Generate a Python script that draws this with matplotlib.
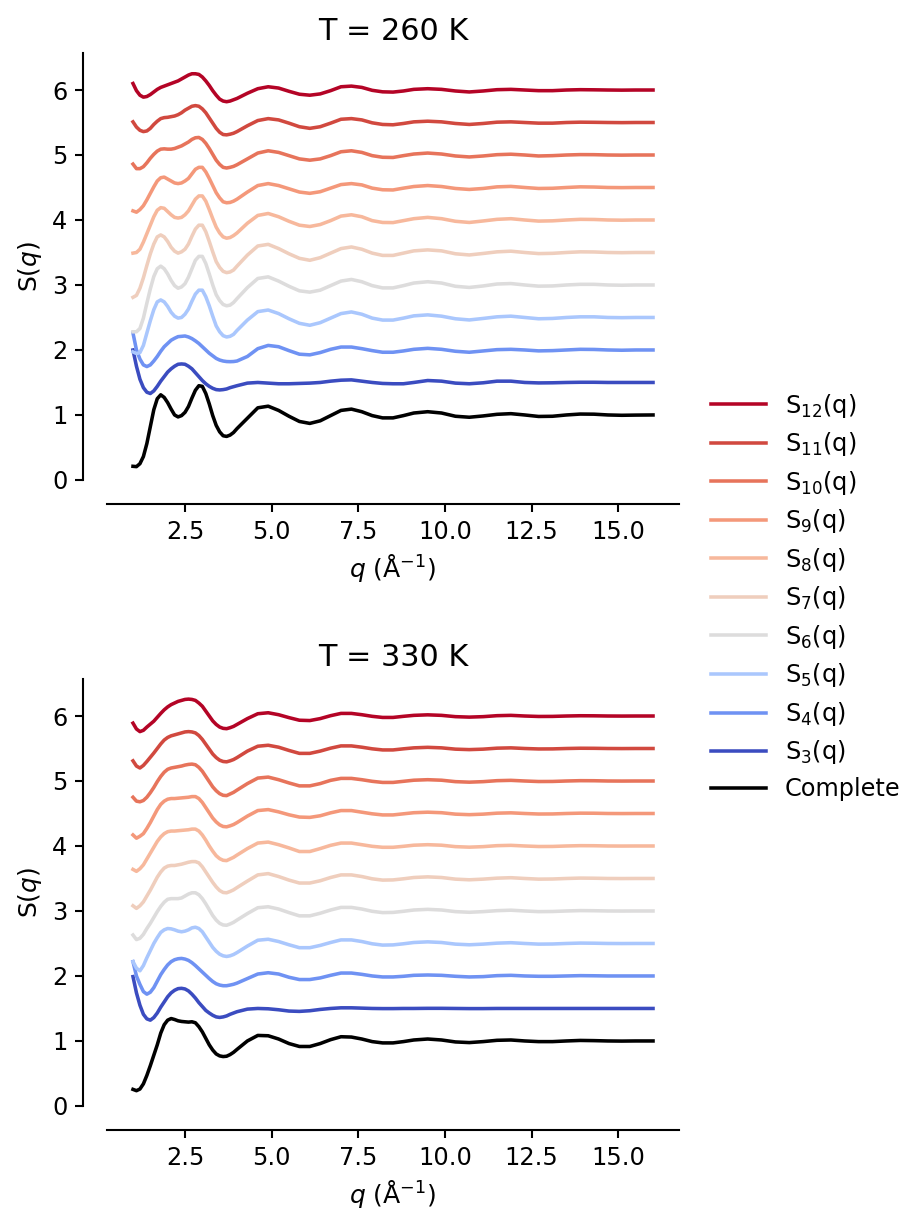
import matplotlib
matplotlib.use("Agg")
import matplotlib.pyplot as plt
import matplotlib.colors as mcolors
from matplotlib.ticker import MultipleLocator
import numpy as np

# q grid (1/Angstrom)
q = [1.0, 1.1, 1.2, 1.3, 1.4, 1.5, 1.6, 1.7, 1.8, 1.9, 2.0, 2.1, 2.2, 2.3, 2.4, 2.5,
     2.6, 2.7, 2.8, 2.9, 3.0, 3.1, 3.2, 3.3, 3.4, 3.5, 3.6, 3.7, 3.8, 3.9, 4.0,
     4.3, 4.6, 4.9, 5.2, 5.5, 5.8, 6.1, 6.4, 6.7, 7.0, 7.3, 7.6, 7.9, 8.2, 8.5, 8.8,
     9.1, 9.5, 9.9, 10.3, 10.7, 11.1, 11.5, 11.9, 12.3, 12.7, 13.1, 13.5, 13.9, 14.3, 14.7, 15.1, 15.5, 16.0]

orders = [3, 4, 5, 6, 7, 8, 9, 10, 11, 12]

# ---- T = 260 K ----
c260 = [0.21, 0.205, 0.25, 0.36, 0.56, 0.82, 1.08, 1.25, 1.31, 1.27, 1.19, 1.09, 1.00, 0.97, 0.99, 1.04,
        1.13, 1.26, 1.38, 1.45, 1.44, 1.33, 1.17, 0.99, 0.84, 0.74, 0.68, 0.67, 0.69, 0.73, 0.79,
        0.95, 1.11, 1.135, 1.07, 0.98, 0.90, 0.87, 0.91, 0.99, 1.07, 1.09, 1.05, 0.99, 0.955, 0.955, 0.99,
        1.03, 1.05, 1.03, 0.98, 0.965, 0.985, 1.01, 1.02, 1.0, 0.977, 0.98, 1.0, 1.014, 1.012, 1.0, 0.995, 0.998, 1.0]
s260_3 = [1.50, 1.25, 1.05, 0.92, 0.85, 0.83, 0.87, 0.94, 1.02, 1.09, 1.16, 1.21, 1.25, 1.28, 1.285, 1.28,
          1.25, 1.21, 1.15, 1.09, 1.03, 0.98, 0.94, 0.91, 0.89, 0.885, 0.89, 0.90, 0.92, 0.935, 0.95,
          0.99, 1.0, 0.99, 0.98, 0.98, 0.985, 0.99, 1.0, 1.02, 1.035, 1.04, 1.02, 1.0, 0.985, 0.98, 0.98,
          1.0, 1.03, 1.02, 0.99, 0.98, 0.995, 1.02, 1.02, 1.0, 0.993, 0.995, 1.0, 1.003, 1.003, 1.0, 1.0, 1.0, 1.0]
s260_4 = [1.26, 1.00, 0.86, 0.77, 0.745, 0.77, 0.83, 0.90, 0.98, 1.05, 1.10, 1.15, 1.18, 1.205, 1.21, 1.215,
          1.20, 1.175, 1.14, 1.10, 1.05, 1.00, 0.95, 0.91, 0.87, 0.845, 0.83, 0.822, 0.82, 0.822, 0.83,
          0.90, 1.02, 1.07, 1.05, 0.99, 0.935, 0.925, 0.96, 1.01, 1.045, 1.045, 1.02, 0.99, 0.965, 0.965, 0.985,
          1.01, 1.025, 1.01, 0.98, 0.965, 0.985, 1.005, 1.01, 1.0, 0.986, 0.99, 1.0, 1.01, 1.008, 1.0, 0.996, 1.0, 1.0]
s260_5 = [0.47, 0.445, 0.46, 0.57, 0.76, 0.95, 1.12, 1.24, 1.27, 1.24, 1.17, 1.08, 1.02, 0.99, 1.00, 1.05,
          1.13, 1.25, 1.36, 1.42, 1.42, 1.32, 1.18, 1.02, 0.87, 0.78, 0.72, 0.70, 0.71, 0.74, 0.80,
          0.96, 1.09, 1.115, 1.06, 0.98, 0.91, 0.88, 0.92, 0.99, 1.06, 1.085, 1.05, 0.99, 0.96, 0.96, 0.99,
          1.025, 1.04, 1.02, 0.98, 0.962, 0.985, 1.01, 1.02, 1.0, 0.98, 0.985, 1.0, 1.01, 1.01, 1.0, 0.997, 1.0, 1.0]
s260_6 = [0.28, 0.28, 0.33, 0.49, 0.72, 0.94, 1.13, 1.25, 1.29, 1.25, 1.17, 1.07, 0.99, 0.95, 0.97, 1.02,
          1.12, 1.25, 1.38, 1.44, 1.44, 1.33, 1.17, 1.0, 0.85, 0.76, 0.70, 0.68, 0.69, 0.73, 0.79,
          0.96, 1.10, 1.125, 1.06, 0.98, 0.91, 0.89, 0.92, 0.99, 1.06, 1.085, 1.05, 0.99, 0.955, 0.955, 0.99,
          1.03, 1.05, 1.03, 0.98, 0.962, 0.985, 1.015, 1.022, 1.0, 0.982, 0.985, 1.0, 1.01, 1.01, 1.0, 0.996, 1.0, 1.0]
s260_7 = [0.31, 0.34, 0.45, 0.61, 0.80, 0.98, 1.13, 1.24, 1.27, 1.24, 1.17, 1.08, 1.02, 0.99, 1.01, 1.05,
          1.13, 1.25, 1.36, 1.42, 1.42, 1.32, 1.17, 1.01, 0.86, 0.77, 0.71, 0.69, 0.70, 0.73, 0.79,
          0.96, 1.10, 1.125, 1.06, 0.98, 0.91, 0.88, 0.92, 0.99, 1.06, 1.085, 1.05, 0.99, 0.955, 0.955, 0.99,
          1.025, 1.04, 1.025, 0.98, 0.962, 0.985, 1.01, 1.02, 1.0, 0.983, 0.987, 1.0, 1.01, 1.008, 1.0, 0.997, 1.0, 1.0]
s260_8 = [0.49, 0.50, 0.55, 0.66, 0.79, 0.92, 1.05, 1.15, 1.19, 1.18, 1.13, 1.08, 1.04, 1.03, 1.04, 1.08,
          1.14, 1.23, 1.32, 1.37, 1.37, 1.29, 1.16, 1.02, 0.89, 0.80, 0.74, 0.72, 0.73, 0.76, 0.80,
          0.95, 1.07, 1.10, 1.05, 0.98, 0.92, 0.90, 0.93, 0.99, 1.06, 1.08, 1.05, 0.99, 0.962, 0.96, 0.99,
          1.02, 1.04, 1.02, 0.98, 0.962, 0.985, 1.01, 1.02, 1.0, 0.983, 0.987, 1.0, 1.01, 1.008, 1.0, 0.997, 1.0, 1.0]
s260_9 = [0.64, 0.62, 0.66, 0.72, 0.81, 0.91, 1.01, 1.10, 1.15, 1.16, 1.13, 1.10, 1.07, 1.06, 1.07, 1.10,
          1.14, 1.21, 1.28, 1.31, 1.31, 1.24, 1.14, 1.03, 0.92, 0.84, 0.78, 0.765, 0.77, 0.79, 0.82,
          0.93, 1.03, 1.06, 1.03, 0.98, 0.93, 0.91, 0.935, 0.99, 1.045, 1.06, 1.04, 0.99, 0.965, 0.962, 0.99,
          1.015, 1.03, 1.015, 0.985, 0.97, 0.985, 1.01, 1.017, 1.0, 0.985, 0.988, 1.0, 1.01, 1.007, 1.0, 0.998, 1.0, 1.0]
s260_10 = [0.86, 0.79, 0.79, 0.82, 0.88, 0.95, 1.01, 1.06, 1.09, 1.095, 1.09, 1.09, 1.10, 1.12, 1.14, 1.17,
           1.20, 1.24, 1.265, 1.27, 1.24, 1.18, 1.10, 1.01, 0.92, 0.855, 0.81, 0.80, 0.81, 0.825, 0.85,
           0.94, 1.03, 1.065, 1.04, 0.99, 0.94, 0.92, 0.94, 0.99, 1.05, 1.065, 1.04, 0.99, 0.965, 0.962, 0.99,
           1.015, 1.03, 1.015, 0.985, 0.97, 0.985, 1.005, 1.012, 1.0, 0.985, 0.99, 1.0, 1.006, 1.005, 1.0, 0.998, 1.0, 1.0]
s260_11 = [1.01, 0.93, 0.88, 0.86, 0.87, 0.91, 0.97, 1.02, 1.06, 1.075, 1.08, 1.09, 1.10, 1.12, 1.15, 1.19,
           1.22, 1.25, 1.26, 1.25, 1.21, 1.15, 1.07, 0.99, 0.91, 0.85, 0.815, 0.81, 0.82, 0.835, 0.86,
           0.95, 1.03, 1.06, 1.04, 0.99, 0.935, 0.91, 0.935, 0.99, 1.05, 1.06, 1.04, 0.995, 0.97, 0.965, 0.985,
           1.01, 1.02, 1.01, 0.985, 0.97, 0.985, 1.005, 1.01, 1.0, 0.99, 0.99, 1.0, 1.005, 1.003, 1.0, 0.998, 1.0, 1.0]
s260_12 = [1.10, 0.99, 0.92, 0.89, 0.90, 0.93, 0.97, 1.01, 1.04, 1.06, 1.08, 1.10, 1.12, 1.14, 1.17, 1.20,
           1.23, 1.25, 1.25, 1.24, 1.20, 1.14, 1.07, 0.99, 0.92, 0.86, 0.83, 0.82, 0.83, 0.85, 0.87,
           0.95, 1.02, 1.05, 1.03, 0.98, 0.935, 0.92, 0.94, 0.99, 1.05, 1.06, 1.04, 0.995, 0.972, 0.968, 0.985,
           1.01, 1.02, 1.01, 0.985, 0.97, 0.985, 1.005, 1.01, 1.0, 0.99, 0.99, 1.0, 1.005, 1.003, 1.0, 0.998, 1.0, 1.0]

# ---- T = 330 K ----
c330 = [0.255, 0.235, 0.26, 0.34, 0.47, 0.62, 0.78, 0.94, 1.12, 1.25, 1.32, 1.345, 1.33, 1.31, 1.30, 1.295,
        1.29, 1.295, 1.28, 1.22, 1.14, 1.04, 0.94, 0.86, 0.80, 0.77, 0.76, 0.765, 0.79, 0.825, 0.87,
        1.0, 1.085, 1.08, 1.03, 0.96, 0.915, 0.915, 0.96, 1.02, 1.065, 1.06, 1.03, 0.99, 0.97, 0.97, 0.99,
        1.015, 1.03, 1.015, 0.985, 0.975, 0.99, 1.01, 1.015, 1.0, 0.99, 0.99, 1.0, 1.008, 1.005, 1.0, 0.998, 1.0, 1.0]
s330_3 = [1.49, 1.24, 1.05, 0.91, 0.84, 0.82, 0.86, 0.93, 1.02, 1.10, 1.18, 1.24, 1.28, 1.305, 1.31, 1.30,
          1.27, 1.22, 1.16, 1.09, 1.03, 0.97, 0.93, 0.895, 0.87, 0.862, 0.87, 0.885, 0.91, 0.93, 0.95,
          0.99, 1.0, 0.995, 0.98, 0.96, 0.955, 0.965, 0.985, 1.0, 1.01, 1.01, 1.005, 1.0, 0.998, 0.998, 1.0,
          1.0, 1.002, 1.002, 1.0, 0.998, 0.998, 1.0, 1.0, 1.0, 1.0, 1.0, 1.0, 1.0, 1.0, 1.0, 1.0, 1.0, 1.0]
s330_4 = [1.22, 1.0, 0.87, 0.76, 0.72, 0.75, 0.82, 0.92, 1.02, 1.10, 1.17, 1.22, 1.25, 1.265, 1.27, 1.26,
          1.24, 1.205, 1.16, 1.11, 1.06, 1.01, 0.96, 0.915, 0.88, 0.86, 0.85, 0.85, 0.86, 0.872, 0.89,
          0.96, 1.03, 1.05, 1.03, 0.98, 0.945, 0.945, 0.97, 1.01, 1.045, 1.045, 1.025, 1.0, 0.985, 0.985, 0.995,
          1.01, 1.015, 1.01, 0.995, 0.985, 0.99, 1.005, 1.01, 1.0, 0.995, 0.995, 1.0, 1.005, 1.003, 1.0, 1.0, 1.0, 1.0]
s330_5 = [0.72, 0.62, 0.58, 0.66, 0.78, 0.89, 1.0, 1.09, 1.17, 1.21, 1.23, 1.225, 1.21, 1.19, 1.18, 1.19,
          1.21, 1.24, 1.25, 1.23, 1.18, 1.10, 1.02, 0.94, 0.88, 0.835, 0.81, 0.80, 0.81, 0.83, 0.86,
          0.96, 1.05, 1.065, 1.03, 0.98, 0.935, 0.935, 0.97, 1.015, 1.055, 1.055, 1.03, 0.995, 0.975, 0.978, 0.995,
          1.015, 1.025, 1.015, 0.99, 0.98, 0.99, 1.005, 1.012, 1.0, 0.99, 0.992, 1.0, 1.006, 1.004, 1.0, 0.999, 1.0, 1.0]
s330_6 = [0.63, 0.56, 0.58, 0.64, 0.73, 0.81, 0.90, 0.99, 1.07, 1.135, 1.18, 1.19, 1.19, 1.19, 1.20, 1.23,
          1.26, 1.28, 1.28, 1.25, 1.19, 1.11, 1.02, 0.93, 0.86, 0.81, 0.785, 0.78, 0.80, 0.825, 0.86,
          0.96, 1.05, 1.065, 1.03, 0.975, 0.925, 0.925, 0.965, 1.015, 1.055, 1.055, 1.03, 0.995, 0.975, 0.978, 0.995,
          1.015, 1.025, 1.015, 0.99, 0.98, 0.99, 1.005, 1.012, 1.0, 0.99, 0.992, 1.0, 1.006, 1.004, 1.0, 0.999, 1.0, 1.0]
s330_7 = [0.58, 0.54, 0.58, 0.64, 0.73, 0.82, 0.92, 1.02, 1.10, 1.16, 1.19, 1.20, 1.20, 1.21, 1.22, 1.235,
          1.25, 1.26, 1.26, 1.24, 1.18, 1.10, 1.02, 0.94, 0.87, 0.815, 0.785, 0.78, 0.80, 0.825, 0.86,
          0.96, 1.055, 1.075, 1.03, 0.975, 0.93, 0.93, 0.965, 1.015, 1.055, 1.055, 1.03, 0.995, 0.975, 0.978, 0.995,
          1.015, 1.025, 1.015, 0.99, 0.98, 0.99, 1.005, 1.012, 1.0, 0.99, 0.992, 1.0, 1.006, 1.004, 1.0, 0.999, 1.0, 1.0]
s330_8 = [0.64, 0.61, 0.65, 0.71, 0.80, 0.89, 0.98, 1.07, 1.14, 1.19, 1.22, 1.23, 1.23, 1.235, 1.24, 1.245,
          1.25, 1.26, 1.26, 1.23, 1.17, 1.09, 1.0, 0.92, 0.85, 0.805, 0.78, 0.775, 0.80, 0.825, 0.86,
          0.96, 1.045, 1.06, 1.02, 0.97, 0.915, 0.915, 0.96, 1.01, 1.045, 1.045, 1.02, 0.995, 0.98, 0.98, 0.995,
          1.012, 1.02, 1.012, 0.99, 0.982, 0.99, 1.005, 1.01, 1.0, 0.992, 0.993, 1.0, 1.005, 1.004, 1.0, 0.999, 1.0, 1.0]
s330_9 = [0.67, 0.62, 0.65, 0.69, 0.77, 0.86, 0.96, 1.06, 1.14, 1.19, 1.22, 1.23, 1.23, 1.235, 1.24, 1.245,
          1.25, 1.26, 1.26, 1.23, 1.17, 1.09, 1.01, 0.93, 0.87, 0.825, 0.80, 0.795, 0.81, 0.83, 0.86,
          0.96, 1.045, 1.06, 1.025, 0.98, 0.945, 0.94, 0.965, 1.01, 1.045, 1.045, 1.02, 0.995, 0.978, 0.978, 0.995,
          1.012, 1.02, 1.012, 0.99, 0.982, 0.99, 1.005, 1.01, 1.0, 0.992, 0.993, 1.0, 1.005, 1.004, 1.0, 0.999, 1.0, 1.0]
s330_10 = [0.75, 0.69, 0.68, 0.70, 0.75, 0.82, 0.90, 0.99, 1.07, 1.135, 1.18, 1.20, 1.21, 1.22, 1.23, 1.245,
           1.255, 1.26, 1.25, 1.21, 1.15, 1.07, 0.99, 0.91, 0.85, 0.805, 0.78, 0.775, 0.80, 0.825, 0.86,
           0.96, 1.045, 1.06, 1.02, 0.97, 0.925, 0.925, 0.96, 1.01, 1.04, 1.04, 1.02, 0.995, 0.978, 0.978, 0.995,
           1.012, 1.02, 1.012, 0.99, 0.982, 0.99, 1.005, 1.01, 1.0, 0.992, 0.993, 1.0, 1.005, 1.004, 1.0, 0.999, 1.0, 1.0]
s330_11 = [0.81, 0.73, 0.70, 0.74, 0.80, 0.865, 0.93, 1.0, 1.07, 1.13, 1.17, 1.195, 1.21, 1.225, 1.24, 1.255,
           1.26, 1.255, 1.24, 1.20, 1.14, 1.065, 0.99, 0.915, 0.86, 0.82, 0.80, 0.795, 0.81, 0.83, 0.86,
           0.96, 1.035, 1.05, 1.02, 0.97, 0.925, 0.925, 0.96, 1.005, 1.04, 1.04, 1.02, 0.995, 0.978, 0.978, 0.995,
           1.01, 1.018, 1.01, 0.99, 0.983, 0.99, 1.005, 1.01, 1.0, 0.993, 0.994, 1.0, 1.004, 1.003, 1.0, 0.999, 1.0, 1.0]
s330_12 = [0.89, 0.80, 0.76, 0.78, 0.83, 0.875, 0.92, 0.98, 1.04, 1.095, 1.14, 1.175, 1.20, 1.225, 1.24, 1.255,
           1.26, 1.255, 1.24, 1.20, 1.15, 1.075, 1.0, 0.925, 0.87, 0.83, 0.81, 0.805, 0.82, 0.84, 0.87,
           0.96, 1.035, 1.05, 1.02, 0.975, 0.935, 0.93, 0.96, 1.005, 1.04, 1.04, 1.02, 0.995, 0.978, 0.978, 0.995,
           1.01, 1.018, 1.01, 0.99, 0.983, 0.99, 1.005, 1.01, 1.0, 0.993, 0.994, 1.0, 1.004, 1.003, 1.0, 0.999, 1.0, 1.0]

partials_260 = [s260_3, s260_4, s260_5, s260_6, s260_7, s260_8, s260_9, s260_10, s260_11, s260_12]
partials_330 = [s330_3, s330_4, s330_5, s330_6, s330_7, s330_8, s330_9, s330_10, s330_11, s330_12]

shift = 0.5
norm = mcolors.TwoSlopeNorm(vmin=3, vcenter=6, vmax=12)
cmap = plt.cm.coolwarm

fig = plt.figure(figsize=(6.06, 8.08), dpi=150)
ax_top = fig.add_axes([0.1177, 0.6040, 0.6293, 0.3523])
ax_bot = fig.add_axes([0.1177, 0.0875, 0.6293, 0.3523])


def draw_panel(ax, complete, partials, title):
    ax.plot(q, complete, color="black", lw=1.7, label="Complete")
    for k, (n, s) in enumerate(zip(orders, partials)):
        ax.plot(q, np.array(s) + shift * (k + 1), color=cmap(norm(n)), lw=1.7,
                label="S$_{%d}$(q)" % n)
    ax.set_ylim(0, 6.57)
    ax.set_xlim(0.25, 16.75)
    ax.xaxis.set_major_locator(MultipleLocator(2.5))
    ax.set_title(title, fontsize=14.5)
    ax.set_ylabel("S($q$)", fontsize=12)
    ax.set_xlabel(r"$q$ (Å$^{-1}$)", fontsize=12)
    ax.tick_params(labelsize=11.5, width=1.0, length=4)
    for side in ["top", "right"]:
        ax.spines[side].set_visible(False)
    for side in ["left", "bottom"]:
        ax.spines[side].set_position(("outward", 11.5))
        ax.spines[side].set_linewidth(1.0)


draw_panel(ax_top, c260, partials_260, "T = 260 K")
draw_panel(ax_bot, c330, partials_330, "T = 330 K")

handles, labels = ax_top.get_legend_handles_labels()
fig.legend(handles[::-1], labels[::-1], loc="center left",
           bbox_to_anchor=(0.758, 0.508), frameon=False, fontsize=11.5,
           labelspacing=0.44, handlelength=2.3, handletextpad=0.8)

fig.savefig("out.png", dpi=150)
